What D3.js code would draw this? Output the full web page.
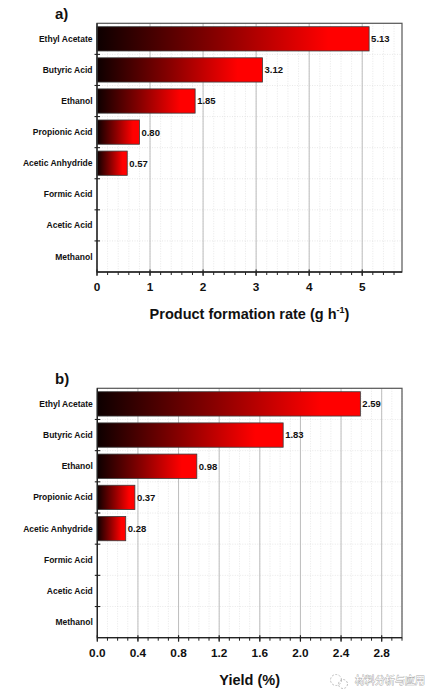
<!DOCTYPE html>
<html>
<head>
<meta charset="utf-8">
<title>Product rates</title>
<style>
  body { margin: 0; background: #fff; }
  svg { display: block; font-family: "Liberation Sans", Arial, sans-serif; }
</style>
</head>
<body>
<svg id="chart" width="438" height="699"></svg>
<script src="https://d3js.org/d3.v7.min.js"></script>
<script>

// products, top to bottom
const products = ["Ethyl Acetate", "Butyric Acid", "Ethanol", "Propionic Acid",
                  "Acetic Anhydride", "Formic Acid", "Acetic Acid", "Methanol"]

// a) product formation rate (g h-1)
const rateValues = [5.13, 3.12, 1.85, 0.80, 0.57, 0, 0, 0]
const rateTicks = [0, 1, 2, 3, 4, 5]

// b) yield (%)
const yieldValues = [2.59, 1.83, 0.98, 0.37, 0.28, 0, 0, 0]
const yieldTicks = [0.0, 0.4, 0.8, 1.2, 1.6, 2.0, 2.4, 2.8]

const svg = d3.select("#chart")

// one gradient, black to red along each bar
const defs = svg.append("defs")
const grad = defs.append("linearGradient")
    .attr("id", "barGrad")
    .attr("x1", "0%").attr("x2", "100%")
    .attr("y1", "0%").attr("y2", "0%")
grad.append("stop").attr("offset", "0%").attr("stop-color", "#0d0000")
grad.append("stop").attr("offset", "45%").attr("stop-color", "#8a0000")
grad.append("stop").attr("offset", "85%").attr("stop-color", "#ff0000")
grad.append("stop").attr("offset", "100%").attr("stop-color", "#ff0000")

function drawPanel(cfg) {
  const g = svg.append("g")

  const x = d3.scaleLinear().domain(cfg.domain).range([cfg.left, cfg.right])
  const y = d3.scaleBand().domain(products).range([cfg.top, cfg.bottom]).paddingInner(0.22).paddingOuter(0.11)
  const step = y.step()

  // minor dotted grid
  const minor = d3.range(cfg.domain[0], cfg.domain[1] + 1e-9, cfg.minor)
  g.append("g").selectAll("line")
    .data(minor)
    .join("line")
      .attr("x1", d => x(d)).attr("x2", d => x(d))
      .attr("y1", cfg.top).attr("y2", cfg.bottom)
      .attr("stroke", "#d9d9d9")
      .attr("stroke-width", 0.6)
      .attr("stroke-dasharray", "1,1.5")

  // horizontal dotted grid at category boundaries
  g.append("g").selectAll("line")
    .data(d3.range(1, products.length))
    .join("line")
      .attr("x1", cfg.left).attr("x2", cfg.right)
      .attr("y1", i => cfg.top + i * step).attr("y2", i => cfg.top + i * step)
      .attr("stroke", "#d9d9d9")
      .attr("stroke-width", 0.6)
      .attr("stroke-dasharray", "1,1.5")

  // major solid grid
  g.append("g").selectAll("line")
    .data(cfg.ticks.slice(1))
    .join("line")
      .attr("x1", d => x(d)).attr("x2", d => x(d))
      .attr("y1", cfg.top).attr("y2", cfg.bottom)
      .attr("stroke", "#bdbdbd")
      .attr("stroke-width", 1)

  // bars
  const rows = products.map((p, i) => ({name: p, value: cfg.values[i]})).filter(d => d.value > 0)
  g.append("g").selectAll("rect")
    .data(rows)
    .join("rect")
      .attr("x", x(0))
      .attr("y", d => y(d.name))
      .attr("width", d => x(d.value) - x(0))
      .attr("height", y.bandwidth())
      .attr("fill", "url(#barGrad)")
      .attr("stroke", "#3a3a3a")
      .attr("stroke-width", 0.8)

  // value labels
  g.append("g").selectAll("text")
    .data(rows)
    .join("text")
      .attr("x", d => x(d.value) + 2)
      .attr("y", d => y(d.name) + y.bandwidth() / 2)
      .attr("dy", "0.36em")
      .attr("font-size", 9.5)
      .attr("font-weight", "bold")
      .attr("fill", "#111")
      .text(d => d.value.toFixed(2))

  // frame
  g.append("rect")
    .attr("x", cfg.left).attr("y", cfg.top)
    .attr("width", cfg.right - cfg.left).attr("height", cfg.bottom - cfg.top)
    .attr("fill", "none")
    .attr("stroke", "#555")
    .attr("stroke-width", 1.2)
  g.append("line")
    .attr("x1", cfg.left).attr("x2", cfg.left)
    .attr("y1", cfg.top).attr("y2", cfg.bottom)
    .attr("stroke", "#222").attr("stroke-width", 1.3)
  g.append("line")
    .attr("x1", cfg.left).attr("x2", cfg.right)
    .attr("y1", cfg.bottom).attr("y2", cfg.bottom)
    .attr("stroke", "#222").attr("stroke-width", 1.3)

  // x axis: major and minor ticks
  g.append("g").selectAll("line")
    .data(minor)
    .join("line")
      .attr("x1", d => x(d)).attr("x2", d => x(d))
      .attr("y1", cfg.bottom).attr("y2", cfg.bottom + 3)
      .attr("stroke", "#222").attr("stroke-width", 1)
  g.append("g").selectAll("line")
    .data(cfg.ticks)
    .join("line")
      .attr("x1", d => x(d)).attr("x2", d => x(d))
      .attr("y1", cfg.bottom - 2.5).attr("y2", cfg.bottom + 4)
      .attr("stroke", "#222").attr("stroke-width", 1.2)
  g.append("g").selectAll("text")
    .data(cfg.ticks)
    .join("text")
      .attr("x", d => x(d))
      .attr("y", cfg.bottom + 19)
      .attr("text-anchor", "middle")
      .attr("font-size", 11.8)
      .attr("font-weight", "bold")
      .attr("fill", "#111")
      .text(cfg.fmt)

  // y axis: ticks at category boundaries
  g.append("g").selectAll("line")
    .data(d3.range(1, products.length))
    .join("line")
      .attr("x1", cfg.left - 2.5).attr("x2", cfg.left + 3)
      .attr("y1", i => cfg.top + i * step).attr("y2", i => cfg.top + i * step)
      .attr("stroke", "#222").attr("stroke-width", 1.1)
  g.append("g").selectAll("text")
    .data(products)
    .join("text")
      .attr("x", cfg.left - 4.5)
      .attr("y", d => y(d) + y.bandwidth() / 2)
      .attr("dy", "0.36em")
      .attr("text-anchor", "end")
      .attr("font-size", 8.5)
      .attr("font-weight", "bold")
      .attr("fill", "#111")
      .text(d => d)

  // panel letter
  g.append("text")
    .attr("x", 55).attr("y", cfg.top - 4)
    .attr("font-size", 15)
    .attr("font-weight", "bold")
    .attr("fill", "#111")
    .text(cfg.letter)

  // axis title
  const title = g.append("text")
    .attr("x", (cfg.left + cfg.right) / 2)
    .attr("y", cfg.bottom + 47)
    .attr("text-anchor", "middle")
    .attr("font-size", 14.5)
    .attr("font-weight", "bold")
    .attr("fill", "#111")
  cfg.title(title)
}

drawPanel({
  letter: "a)",
  values: rateValues,
  ticks: rateTicks,
  domain: [0, 5.75],
  minor: 0.2,
  fmt: d3.format("d"),
  left: 97, right: 402, top: 23.3, bottom: 272,
  title: t => {
    t.append("tspan").text("Product formation rate (g h")
    t.append("tspan").attr("font-size", 9).attr("dy", -6).text("-1")
    t.append("tspan").attr("dy", 6).text(")")
  }
})

drawPanel({
  letter: "b)",
  values: yieldValues,
  ticks: yieldTicks,
  domain: [0, 3.0],
  minor: 0.1,
  fmt: d3.format(".1f"),
  left: 97.3, right: 402, top: 388.3, bottom: 637.7,
  title: t => t.text("Yield (%)")
})

// watermark
const wm = svg.append("g").attr("opacity", 0.75)
wm.append("circle").attr("cx", 336).attr("cy", 680).attr("r", 5.5)
  .attr("fill", "none").attr("stroke", "#aaa").attr("stroke-width", 1).attr("stroke-dasharray", "2,1.5")
wm.append("circle").attr("cx", 343).attr("cy", 684).attr("r", 4.5)
  .attr("fill", "none").attr("stroke", "#aaa").attr("stroke-width", 1).attr("stroke-dasharray", "2,1.5")
wm.append("text")
  .attr("x", 355).attr("y", 684)
  .attr("font-family", "Noto Sans CJK SC")
  .attr("font-size", 10)
  .attr("fill", "#fff")
  .attr("stroke", "#888")
  .attr("stroke-width", 0.8)
  .attr("paint-order", "stroke")
  .text("材料分析与应用")

</script>
</body>
</html>
